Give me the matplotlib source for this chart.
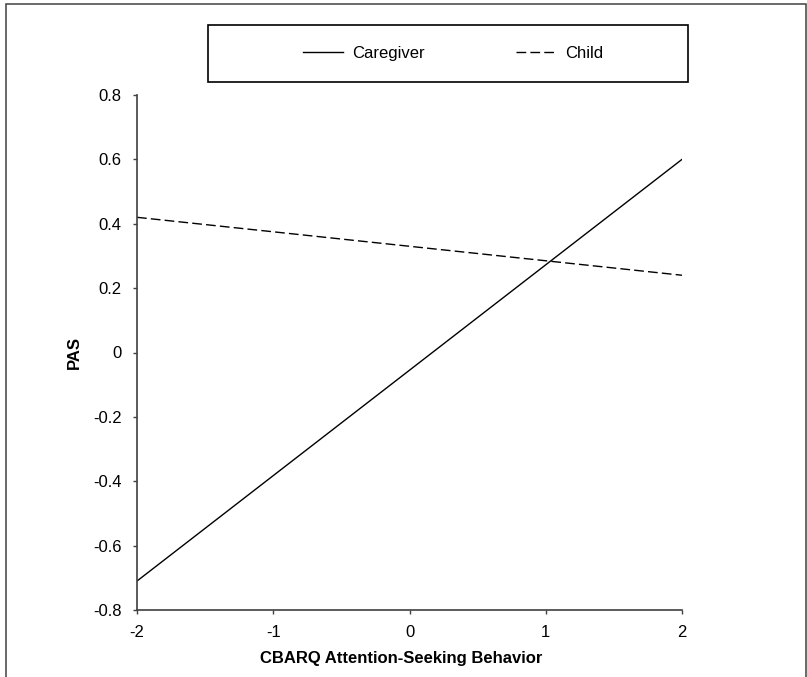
import matplotlib
matplotlib.use("Agg")
import matplotlib.pyplot as plt
from matplotlib.patches import Rectangle

# simple slopes: PAS vs CBARQ attention-seeking, by rater
x_vals = [-2, 2]
caregiver = [-0.71, 0.60]
child = [0.42, 0.24]

x_ticks = [-2, -1, 0, 1, 2]
x_labels = ["-2", "-1", "0", "1", "2"]
y_ticks = [-0.8, -0.6, -0.4, -0.2, 0, 0.2, 0.4, 0.6, 0.8]
y_labels = ["-0.8", "-0.6", "-0.4", "-0.2", "0", "0.2", "0.4", "0.6", "0.8"]

plt.rcParams["font.family"] = ["Liberation Sans", "DejaVu Sans"]

W, H = 807, 677
fig = plt.figure(figsize=(W / 100, H / 100), dpi=100)

# outer chart border (bottom edge runs off the image)
fig.patches.append(Rectangle((6 / W, -0.02), 800 / W, 1 - 4 / H + 0.02,
                             transform=fig.transFigure, fill=False,
                             edgecolor="#404040", linewidth=1.1))

ax = fig.add_axes([137 / W, 1 - 610 / H, 545 / W, 515 / H])
ax.plot(x_vals, caregiver, color="black", linewidth=1.0, label="Caregiver")
ax.plot(x_vals, child, color="black", linewidth=1.0, dashes=(7, 3),
        label="Child")

ax.set_xlim(-2, 2)
ax.set_ylim(-0.8, 0.8)
ax.set_xticks(x_ticks)
ax.set_xticklabels(x_labels)
ax.set_yticks(y_ticks)
ax.set_yticklabels(y_labels)
ax.tick_params(direction="out", length=3, width=1, color="#404040",
               labelsize=12)
ax.tick_params(axis="y", pad=8)
ax.tick_params(axis="x", pad=7.5)
for s in ["top", "right"]:
    ax.spines[s].set_visible(False)
for s in ["left", "bottom"]:
    ax.spines[s].set_color("#404040")
    ax.spines[s].set_linewidth(1.2)

ax.set_xlabel("CBARQ Attention-Seeking Behavior", fontsize=12, fontweight="bold")
ax.set_ylabel("PAS", fontsize=12, fontweight="bold")
ax.xaxis.set_label_coords((401 - 137) / 545, (610 - 651) / 515)
ax.yaxis.set_label_coords((82 - 137) / 545, 0.5)

# legend box
fig.patches.append(Rectangle((208 / W, 1 - 82 / H), 480 / W, 57 / H,
                             transform=fig.transFigure, fill=False,
                             edgecolor="black", linewidth=1.2))
fig.legend(loc="center", bbox_to_anchor=(453 / W, 1 - 53.5 / H), ncol=2,
           frameon=False, fontsize=12, handlelength=2.45, handletextpad=0.5,
           columnspacing=5.5)

fig.savefig("out.png", dpi=100)
